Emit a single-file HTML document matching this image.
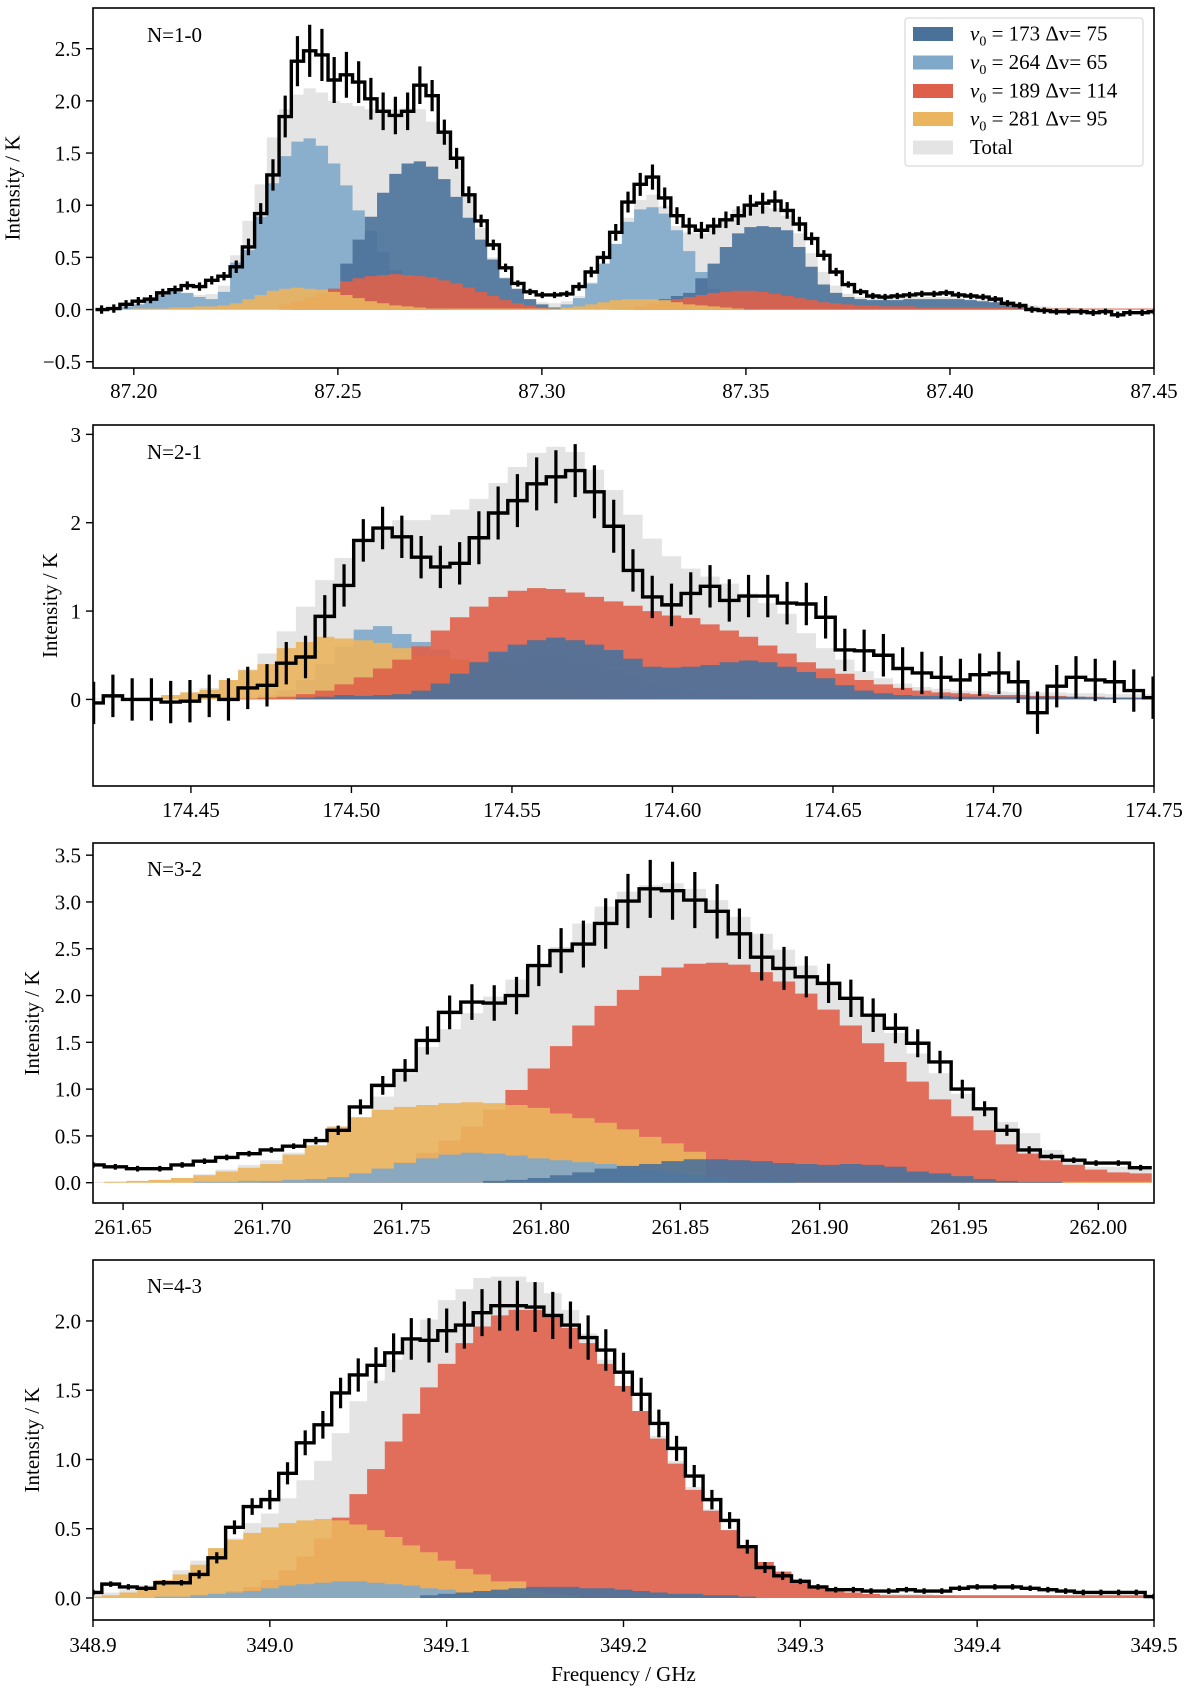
<!DOCTYPE html>
<html><head><meta charset="utf-8"><title>Spectral line fits</title>
<style>
html,body{margin:0;padding:0;background:#fff;}
svg{display:block;font-family:"Liberation Serif","DejaVu Serif",serif;}
</style></head>
<body>
<svg id="chart" xmlns="http://www.w3.org/2000/svg" width="1200" height="1689" viewBox="0 0 1200 1689">
<rect x="0" y="0" width="1200" height="1689" fill="#fff"/>
</svg>
<script>
// ---------- Panel 1 : N=1-0 ----------
const p1Data=[0.0,0.01,0.05,0.08,0.10,0.16,0.19,0.23,0.22,0.28,0.32,0.41,0.60,0.92,1.29,1.85,2.38,2.48,2.44,2.20,2.25,2.18,2.02,1.90,1.86,1.90,
2.15,2.05,1.70,1.45,1.10,0.85,0.62,0.40,0.25,0.17,0.14,0.14,0.15,0.22,0.36,0.50,0.74,1.03,1.20,1.27,1.07,0.90,0.80,0.76,0.80,0.86,0.90,1.00,1.02,1.04,0.95,0.82,0.68,0.52,0.36,0.24,0.17,0.13,0.12,0.13,0.14,0.15,0.15,0.16,0.14,0.13,0.12,0.10,
0.06,0.04,0.0,-0.01,-0.02,-0.02,-0.02,-0.03,-0.02,-0.05,-0.03,-0.03,-0.02];
const p1Err=[0.04,0.04,0.04,0.04,0.04,0.04,0.04,0.04,0.04,0.04,0.04,0.06,0.08,0.10,0.15,0.20,
0.24,0.25,0.25,0.22,0.22,0.20,0.20,0.18,0.18,0.18,0.18,0.15,0.12,0.10,0.08,0.06,0.05,0.04,0.03,0.03,0.03,0.03,0.03,
0.04,0.05,0.06,0.08,0.10,0.11,0.12,0.10,0.08,0.08,0.08,0.08,0.08,0.09,0.10,0.10,0.10,0.08,0.07,0.06,0.05,0.04,0.03,0.03,
0.03,0.03,0.03,0.03,0.03,0.03,0.03,0.03,0.03,0.03,0.03,0.03,0.03,0.03,0.03,0.03,0.03,0.03,0.03,0.03,0.03,0.03,0.03,0.03];
const p1Total=[0.0,0.01,0.03,0.06,0.10,0.13,0.15,0.15,0.14,0.15,0.23,
0.52,0.85,1.20,1.65,1.92,2.06,2.12,2.08,2.00,1.98,1.95,1.92,1.92,1.92,1.93,
1.92,1.80,1.72,1.45,1.10,0.78,0.50,0.31,0.18,0.10,0.07,0.06,0.08,0.13,0.26,0.44,0.62,0.88,1.05,1.10,0.99,0.80,0.74,0.73,0.80,0.88,0.96,0.99,0.99,0.97,0.90,0.73,0.54,0.36,0.23,0.15,0.12,
0.11,0.11,0.12,0.12,0.12,0.12,0.12,0.11,0.10,0.09,0.08,
0.06,0.05,0.04,0.03,0.02,0.02,0.01,0.01,0.01,0.0,0.0,0.0,0.0];
const p1DarkBlue=[0,0,0,0,0,0,0,0,0,0,0,0,0,0,0,0,
0.03,0.06,0.12,0.20,0.44,0.67,0.89,1.12,1.30,1.40,1.42,1.37,1.25,1.08,0.88,0.67,0.48,0.30,0.20,0.10,0.05,0.02,
0,0,0,0,0,0,
0.03,0.06,0.10,0.13,0.16,0.30,0.44,0.60,0.73,0.79,0.80,0.79,0.76,0.60,0.41,0.24,0.16,0.12,0.10,
0.09,0.09,0.09,0.10,0.10,0.10,0.10,0.10,0.09,0.08,0.07,0.05,0.03,0.02,0.01,
0,0,0,0,0,0,0,0,0];
const p1LightBlue=[0,0.01,0.03,0.05,0.10,0.14,0.17,0.16,0.12,0.10,0.17,
0.45,0.57,0.89,1.21,1.47,1.61,1.64,1.57,1.40,1.19,0.95,0.75,0.55,0.38,0.24,0.13,0.07,0.03,
0,0,0,0,0,0,0,0,
0.02,0.05,0.11,0.25,0.44,0.63,0.84,0.96,0.98,0.92,0.76,0.56,0.36,0.20,0.10,0.05,0.02,
0,0,0,0,0,0,0,0,0,0,0,0,0,0,0,0,0,0,0,0,0,0,0,0,0,0,0,0,0,0,0,0,0];
const p1Red=[0,0,0,0,0,0,0,0,0,0,0,0,0,0,0,
0.05,0.08,0.12,0.16,0.20,0.27,0.30,0.32,0.33,0.34,0.33,0.32,0.31,0.28,0.25,0.21,0.17,0.13,0.09,0.06,0.04,0.02,
0,0,0,0,0,0.01,0.02,
0.03,0.05,0.07,0.10,0.12,0.14,0.16,0.17,0.18,0.18,0.17,0.15,0.13,0.11,0.09,0.07,0.06,0.05,
0.04,0.04,0.03,0.03,0.03,0.02,0.02,0.02,0.02,0.02,0.02,0.02,0.02,0.01,0.01,0.01,0.01,0.01,0.01,0.01,0.01,0.01,0.01,0.01,0.01];
const p1Orange=[0,0,0,0.01,0.01,0.01,0.02,0.02,0.03,0.03,0.04,
0.06,0.10,0.14,0.18,0.20,0.21,0.20,0.19,0.17,0.14,0.11,0.08,0.06,0.04,0.03,0.02,0.01,0.01,0.01,0.01,
0.01,0.01,0.01,0.01,0.01,0.01,0.01,
0.02,0.03,0.05,0.07,0.09,0.10,0.10,0.10,0.09,0.07,0.05,0.04,0.03,0.02,0.01,
0,0,0,0,0,0,0,0,0,0,0,0,0,0,0,0,0,0,0,0,0,0,0,0,0,0,0,0,0,0,0,0,0,0];
const p1XTicks=[87.20,87.25,87.30,87.35,87.40,87.45];
const p1XLabels=["87.20","87.25","87.30","87.35","87.40","87.45"];
const p1YTicks=[-0.5,0.0,0.5,1.0,1.5,2.0,2.5];
const p1YLabels=["\u22120.5","0.0","0.5","1.0","1.5","2.0","2.5"];

// ---------- Panel 2 : N=2-1 ----------
const p2Data=[-0.04,0.04,0.0,0.0,-0.03,-0.02,0.04,0.0,0.13,0.16,0.41,
0.48,0.94,1.29,1.80,1.94,1.84,1.61,1.50,1.54,1.83,2.11,2.25,2.44,2.52,2.59,2.35,1.96,1.46,1.16,1.07,1.20,1.28,1.12,1.17,1.17,1.09,1.08,0.93,0.56,
0.55,0.50,0.35,0.30,0.25,0.22,0.28,0.30,0.20,-0.15,0.15,0.25,0.22,0.20,0.10,0.02];
const p2Err=[0.24,0.24,0.24,0.24,0.24,0.24,0.24,0.24,0.24,0.24,0.24,0.24,0.24,0.24,0.24,0.24,0.24,0.24,0.24,0.24,
0.3,0.3,0.3,0.3,0.3,0.3,0.3,0.3,
0.24,0.24,0.24,0.24,0.24,0.24,0.24,0.24,0.24,0.24,0.24,0.24,0.24,0.24,0.24,0.24,0.24,0.24,0.24,0.24,0.24,0.24,0.24,0.24,0.24,0.24,0.24,0.24];
const p2Total=[0.01,0.01,0.01,0.01,0.03,0.08,0.13,0.22,0.34,0.52,0.77,
1.05,1.35,1.60,1.80,1.92,2.03,2.03,2.09,2.15,2.27,2.45,2.63,2.79,2.86,2.80,2.60,2.37,2.09,1.82,1.62,1.48,1.39,1.31,1.20,1.09,0.97,0.75,0.58,
0.45,0.32,0.24,0.18,0.14,0.12,0.10,0.09,0.09,0.08,0.08,0.08,0.07,0.07,0.06,0.06,0.06];
const p2DarkBlue=[0,0,0,0,0,0,0,0,0,0,0,
0.02,0.03,0.05,0.04,0.05,0.06,0.10,0.18,0.29,0.42,0.54,0.62,0.67,0.70,0.67,0.62,0.56,0.46,0.37,0.36,0.37,0.39,0.42,0.44,0.42,0.37,0.31,0.24,0.16,0.10,0.07,
0.05,0.04,0.04,0.03,0.03,0.03,0.03,0.03,0.03,0.03,0.02,0.02,0.02,0.02];
const p2LightBlue=[0,0,0,0,0,0,0,0,0,
0.05,0.10,0.22,0.40,0.60,0.79,0.83,0.74,0.65,0.56,0.45,0.40,0.43,0.48,0.49,0.50,0.46,0.40,0.33,0.25,0.18,0.12,0.08,0.05,0.03,0.02,
0,0,0,0,0,0,0,0,0,0,0,0,0,0,0,0,0,0,0,0,0];
const p2Red=[0,0,0,0,0,0,0,0,0.01,0.02,
0.03,0.06,0.10,0.17,0.25,0.35,0.45,0.60,0.78,0.93,1.05,1.16,1.23,1.26,1.25,1.21,1.16,1.11,1.06,1.00,0.95,0.92,0.85,0.78,0.71,0.61,0.52,0.42,0.35,0.29,
0.22,0.17,0.13,0.10,0.08,0.07,0.06,0.05,0.05,0.04,0.04,0.03,0.03,0.02,0.02,0.02];
const p2Orange=[0,0,0.01,0.02,0.05,0.08,0.11,0.22,0.33,0.40,
0.58,0.65,0.71,0.69,0.67,0.64,0.58,0.50,0.50,0.45,0.43,0.35,0.27,0.20,0.15,0.10,0.07,0.05,0.03,
0.02,0.01,0,0,0,0,0,0,0,0,0,0,0,0,0,0,0,0,0,0,0,0,0,0,0,0,0];
const p2XTicks=[174.45,174.50,174.55,174.60,174.65,174.70,174.75];
const p2XLabels=["174.45","174.50","174.55","174.60","174.65","174.70","174.75"];
const p2YTicks=[0,1,2,3];
const p2YLabels=["0","1","2","3"];

// ---------- Panel 3 : N=3-2 ----------
const p3Data=[0.19,0.17,0.15,0.15,0.19,0.23,0.27,0.31,0.35,0.39,
0.45,0.56,0.81,1.04,1.20,1.52,1.82,1.93,1.92,2.00,2.32,2.48,2.55,2.77,3.01,3.14,3.12,3.02,2.90,2.66,2.41,2.29,2.20,2.13,1.97,1.79,1.65,1.49,1.29,1.00,0.79,
0.56,0.35,0.28,0.24,0.21,0.21,0.16];
const p3Err=[0.03,0.03,0.03,0.03,0.03,0.03,0.03,0.03,0.03,0.03,
0.04,0.05,0.08,0.1,0.12,0.15,0.18,0.19,0.19,0.2,0.22,0.24,0.25,0.27,0.29,0.31,0.31,0.3,0.29,0.27,0.25,0.23,0.22,0.21,0.2,0.18,0.16,0.15,0.12,0.1,0.08,0.06,0.04,0.03,0.03,0.03,0.03,0.03];
const p3Total=[0.01,0.01,0.02,0.03,0.05,0.09,0.14,0.19,0.24,0.32,
0.39,0.57,0.70,0.92,1.17,1.45,1.64,1.81,1.99,2.17,2.34,2.52,2.77,2.95,3.11,3.18,3.20,3.14,3.02,2.84,2.66,2.49,2.32,2.15,1.97,1.77,1.60,1.38,1.17,0.95,0.78,0.65,0.53,0.35,0.23,0.17,0.17,0.15];
const p3DarkBlue=[0,0,0,0,0,0,0,0,0,0,0,0,0,0,0,0,0,0,
0.02,0.03,0.05,0.08,0.11,0.15,0.18,0.20,0.23,0.25,0.25,0.24,0.23,0.21,0.20,0.19,0.20,0.19,0.17,0.12,0.10,0.07,0.04,0.02,0.01,0.01,
0,0,0,0];
const p3LightBlue=[0,0,0,0,0,0.01,0.01,0.02,0.02,0.03,
0.04,0.06,0.10,0.15,0.21,0.26,0.30,0.32,0.31,0.29,0.26,0.24,0.22,0.20,0.17,0.14,0.11,0.08,0.06,0.04,0.03,0.02,
0,0,0,0,0,0,0,0,0,0,0,0,0,0,0,0];
const p3Red=[0,0,0,0,0,0,0,0,0.01,
0.02,0.04,0.06,0.10,0.15,0.22,0.32,0.45,0.60,0.78,0.99,1.22,1.46,1.68,1.89,2.06,2.21,2.30,2.34,2.35,2.33,2.25,2.15,2.02,1.85,1.68,1.49,1.29,1.08,0.89,0.71,0.56,0.41,0.31,0.24,0.19,0.14,0.11,0.10];
const p3Orange=[0,0.01,0.02,0.03,0.05,0.08,0.12,0.16,0.20,0.30,
0.40,0.60,0.70,0.78,0.81,0.83,0.85,0.86,0.85,0.83,0.80,0.74,0.69,0.64,0.57,0.49,0.42,0.33,0.02,0.01,0.01,0.01,0.01,0.01,0.01,0.01,
0.01,0.01,0.01,0.01,0.01,0.01,0.01,0.01,0.01,0.01,0.01,0.01];
const p3XTicks=[261.65,261.70,261.75,261.80,261.85,261.90,261.95,262.00];
const p3XLabels=["261.65","261.70","261.75","261.80","261.85","261.90","261.95","262.00"];
const p3YTicks=[0.0,0.5,1.0,1.5,2.0,2.5,3.0,3.5];
const p3YLabels=["0.0","0.5","1.0","1.5","2.0","2.5","3.0","3.5"];

// ---------- Panel 4 : N=4-3 ----------
const p4Data=[0.04,0.10,0.08,0.07,0.11,0.11,0.17,0.29,0.51,0.66,0.71,0.90,
1.12,1.25,1.48,1.61,1.68,1.77,1.87,1.86,1.93,1.97,2.06,2.11,2.11,2.10,2.04,1.97,1.88,1.79,1.63,1.47,1.26,1.08,0.88,0.71,0.56,0.37,0.22,0.16,0.12,0.08,
0.06,0.06,0.05,0.05,0.06,0.05,0.05,0.07,0.08,0.08,0.08,0.07,0.06,0.05,0.04,0.04,0.04,0.04,0.01];
const p4Err=[0.02,0.02,0.02,0.02,0.02,0.02,0.03,0.04,0.05,0.06,0.07,0.08,
0.09,0.1,0.11,0.12,0.13,0.14,0.15,0.16,0.16,0.17,0.17,0.18,0.18,0.18,0.17,0.17,0.16,0.15,0.14,0.12,0.1,0.09,0.08,0.07,
0.06,0.05,0.04,0.03,0.02,0.02,
0.02,0.02,0.02,0.02,0.02,0.02,0.02,0.02,0.02,0.02,0.02,0.02,0.02,0.02,0.02,0.02,0.02,0.02,0.02];
const p4Total=[0.03,0.04,0.06,0.09,0.13,0.20,0.27,
0.36,0.43,0.54,0.61,0.72,0.85,0.99,1.19,1.42,1.57,1.72,1.86,2.01,2.15,2.23,2.31,2.32,2.32,2.28,2.20,2.08,1.91,1.72,1.53,1.35,1.17,0.99,0.80,0.64,0.49,0.35,0.26,0.19,0.13,0.07,
0.05,0.04,0.03,0.03,0.03,0.03,0.02,0.02,0.02,0.02,0.02,0.02,0.02,0.02,0.02,0.02,0.02,0.02,0.02];
const p4DarkBlue=[0,0,0,0,0,0,0,0,0,0,0,0,0,0,0,0,0,0,0,
0.02,0.03,0.04,0.05,0.06,0.07,0.08,0.08,0.08,0.07,0.07,0.06,0.05,0.04,0.03,0.03,0.02,0.02,0.01,
0,0,0,0,0,0,0,0,0,0,0,0,0,0,0,0,0,0,0,0,0,0,0];
const p4LightBlue=[0,0,0,0,0.01,0.01,
0.02,0.03,0.04,0.05,0.07,0.09,0.10,0.11,0.12,0.12,0.11,0.10,0.09,0.07,0.06,0.04,0.03,0.02,0.01,
0,0,0,0,0,0,0,0,0,0,0,0,0,0,0,0,0,0,0,0,0,0,0,0,0,0,0,0,0,0,0,0,0,0,0,0];
const p4Red=[0,0,0,0,0,0,
0.02,0.03,0.05,0.08,0.13,0.20,0.30,0.43,0.58,0.75,0.93,1.13,1.33,1.52,1.69,1.84,1.96,2.04,2.08,2.08,2.03,1.95,1.84,1.69,1.53,1.35,1.15,0.97,0.78,0.63,0.49,0.37,0.26,0.19,0.13,0.09,0.06,0.04,0.03,
0.02,0.02,0.02,0.02,0.02,0.02,0.02,0.02,0.02,0.02,0.02,0.02,0.02,0.02,0.02,0.02];
const p4Orange=[0.01,0.02,0.04,0.08,0.13,0.17,0.24,0.36,0.42,0.47,0.51,0.54,0.56,0.57,0.56,0.53,0.49,0.44,0.38,0.33,0.27,0.21,0.17,0.12,0.12,0.05,0.03,0.02,
0,0,0,0,0,0,0,0,0,0,0,0,0,0,0,0,0,0,0,0,0,0,0,0,0,0,0,0,0,0,0,0,0];
const p4XTicks=[348.9,349.0,349.1,349.2,349.3,349.4,349.5];
const p4XLabels=["348.9","349.0","349.1","349.2","349.3","349.4","349.5"];
const p4YTicks=[0.0,0.5,1.0,1.5,2.0];
const p4YLabels=["0.0","0.5","1.0","1.5","2.0"];

const legendLabels=[["173","75"],["264","65"],["189","114"],["281","95"]];

const NS="http://www.w3.org/2000/svg";
const svg=document.getElementById('chart');
const COL={db:"#4a719a",lb:"#80a9c9",red:"#df604a",or:"#ebb45e",tot:"#e4e4e4"};
function mk(tag,attrs,parent){const e=document.createElementNS(NS,tag);for(const k in attrs)e.setAttribute(k,attrs[k]);(parent||svg).appendChild(e);return e;}

const panels=[
 {id:1,top:8,bottom:368,xmin:87.19,xmax:87.45,ymin:-0.56,ymax:2.89,c0:87.1921,w:0.003,data:p1Data,err:p1Err,total:p1Total,
  comps:{db:p1DarkBlue,lb:p1LightBlue,red:p1Red,or:p1Orange},order:["lb","db","red","or"],
  xt:p1XTicks,xl:p1XLabels,yt:p1YTicks,yl:p1YLabels,xlBase:398,ylabX:19.5,label:"N=1-0",labBase:42},
 {id:2,top:425,bottom:786,xmin:174.4195,xmax:174.75,ymin:-0.98,ymax:3.106,c0:174.4197,w:0.006,data:p2Data,err:p2Err,total:p2Total,
  comps:{db:p2DarkBlue,lb:p2LightBlue,red:p2Red,or:p2Orange},order:["lb","or","red","db"],
  xt:p2XTicks,xl:p2XLabels,yt:p2YTicks,yl:p2YLabels,xlBase:817,ylabX:57,label:"N=2-1",labBase:459},
 {id:3,top:843,bottom:1203,xmin:261.6392,xmax:262.02,ymin:-0.217,ymax:3.63,c0:261.6392,w:0.008,data:p3Data,err:p3Err,total:p3Total,
  comps:{db:p3DarkBlue,lb:p3LightBlue,red:p3Red,or:p3Orange},order:["red","or","lb","db"],
  xt:p3XTicks,xl:p3XLabels,yt:p3YTicks,yl:p3YLabels,xlBase:1234,ylabX:39,label:"N=3-2",labBase:876},
 {id:4,top:1260,bottom:1620,xmin:348.9,xmax:349.5,ymin:-0.159,ymax:2.44,c0:348.9,w:0.01,data:p4Data,err:p4Err,total:p4Total,
  comps:{db:p4DarkBlue,lb:p4LightBlue,red:p4Red,or:p4Orange},order:["red","or","lb","db"],
  xt:p4XTicks,xl:p4XLabels,yt:p4YTicks,yl:p4YLabels,xlBase:1652,ylabX:39,label:"N=4-3",labBase:1293}
];
const L=93,R=1154;
const compNames={db:"component-173",lb:"component-264",red:"component-189",or:"component-281"};

panels.forEach(p=>{
  const xs=f=>L+(f-p.xmin)/(p.xmax-p.xmin)*(R-L);
  const ys=v=>p.bottom-(v-p.ymin)/(p.ymax-p.ymin)*(p.bottom-p.top);
  const g=mk('g',{});
  
  
  const cp=mk('clipPath',{id:'clip'+p.id},g);
  mk('rect',{x:L,y:p.top,width:R-L,height:p.bottom-p.top},cp);
  const plot=mk('g',{'clip-path':'url(#clip'+p.id+')'},g);
  
  
  function fillPath(arr){
    const y0=ys(0);let d='M'+xs(p.c0-p.w/2).toFixed(2)+','+y0.toFixed(2);
    arr.forEach((v,i)=>{const c=p.c0+i*p.w;const a=xs(c-p.w/2),b=xs(c+p.w/2),y=ys(v);
      d+='L'+a.toFixed(2)+','+y.toFixed(2)+'L'+b.toFixed(2)+','+y.toFixed(2);});
    d+='L'+xs(p.c0+(arr.length-0.5)*p.w).toFixed(2)+','+y0.toFixed(2)+'Z';return d;}
  const tp=mk('path',{d:fillPath(p.total),fill:COL.tot},plot);
  
  
  p.order.forEach(k=>{
    const cpth=mk('path',{d:fillPath(p.comps[k]),fill:COL[k],'fill-opacity':0.9},plot);
    
    
  });
  let d='';
  p.data.forEach((v,i)=>{const c=p.c0+i*p.w;const a=xs(c-p.w/2),b=xs(c+p.w/2),y=ys(v);
    d+=(i===0?'M':'L')+a.toFixed(2)+','+y.toFixed(2)+'L'+b.toFixed(2)+','+y.toFixed(2);});
  const dl=mk('path',{d:d,fill:'none',stroke:'#000','stroke-width':3.4,'stroke-linejoin':'miter'},plot);
  
  
  let ed='';
  p.data.forEach((v,i)=>{const x=xs(p.c0+i*p.w);ed+='M'+x.toFixed(2)+','+ys(v-p.err[i]).toFixed(2)+'V'+ys(v+p.err[i]).toFixed(2);});
  const eb=mk('path',{d:ed,stroke:'#000','stroke-width':3.2,fill:'none'},plot);
  
  
  const fr=mk('rect',{x:L,y:p.top,width:R-L,height:p.bottom-p.top,fill:'none',stroke:'#000','stroke-width':1.6},g);
  
  
  p.xt.forEach((t,i)=>{const x=xs(t);
    const tk=mk('line',{x1:x,x2:x,y1:p.bottom,y2:p.bottom+7,stroke:'#000','stroke-width':1.4},g);
    
    
    const tx=mk('text',{x:x,y:p.xlBase,'text-anchor':'middle','font-size':21,fill:'#000'},g);
    tx.textContent=p.xl[i];
    
    });
  p.yt.forEach((t,i)=>{const y=ys(t);
    const tk=mk('line',{x1:L-7,x2:L,y1:y,y2:y,stroke:'#000','stroke-width':1.4},g);
    
    
    const tx=mk('text',{x:81,y:y+7.5,'text-anchor':'end','font-size':21,fill:'#000'},g);
    tx.textContent=p.yl[i];
    
    });
  const cy=(p.top+p.bottom)/2;
  const yl=mk('text',{x:p.ylabX,y:cy,'text-anchor':'middle','font-size':21,transform:'rotate(-90 '+p.ylabX+' '+cy+')'},g);
  yl.textContent='Intensity / K';
  
  
  const nl=mk('text',{x:147,y:p.labBase,'font-size':21},g);
  nl.textContent=p.label;
  
  
});

const xt=mk('text',{x:623.5,y:1681,'text-anchor':'middle','font-size':21});
xt.textContent='Frequency / GHz';



const lg=mk('g',{});


mk('rect',{x:905,y:18,width:238,height:148,rx:3,fill:'#fff','fill-opacity':0.85,stroke:'#d9d9d9','stroke-width':1.2},lg);
const legKeys=["db","lb","red","or","tot"];
const rowY=[34,62.5,91,119,147.5];
legKeys.forEach((k,i)=>{
  const e=mk('g',{},lg);
  
  
  mk('rect',{x:913,y:rowY[i]-7,width:40,height:14,fill:COL[k]},e);
  const t=mk('text',{x:970,y:rowY[i]+6.5,'font-size':21},e);
  if(k==='tot'){t.textContent='Total';}
  else{
    const lab=legendLabels[i];
    const a=mk('tspan',{'font-style':'italic'},t);a.textContent='v';
    const b=mk('tspan',{'font-size':14,dy:5},t);b.textContent='0';
    const c=mk('tspan',{dy:-5},t);c.textContent=' = '+lab[0]+' \u0394v= '+lab[1];
  }
});
</script>
</body></html>
